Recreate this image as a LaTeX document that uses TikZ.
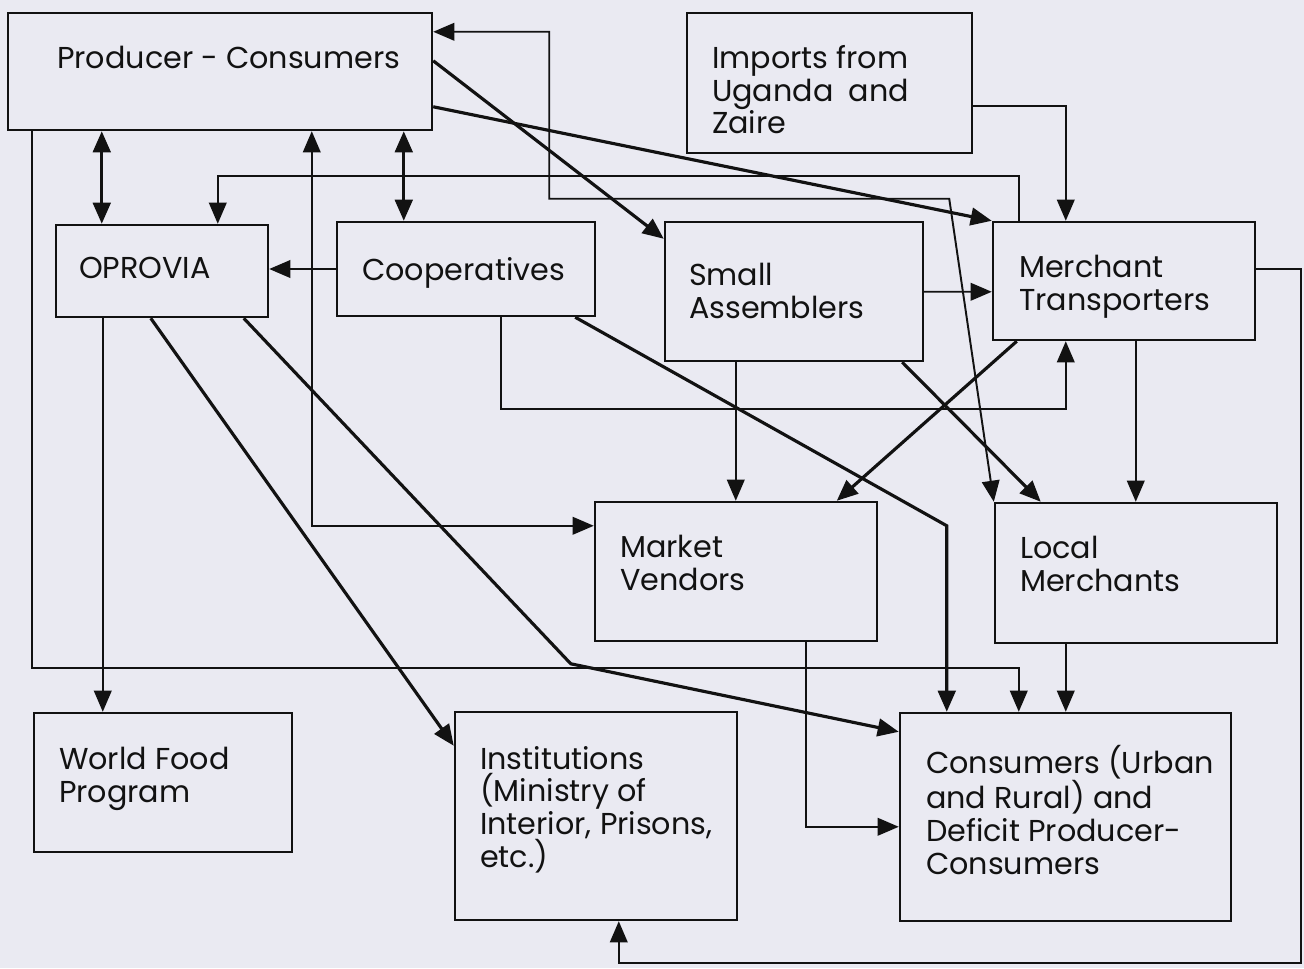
\documentclass[tikz,border=0pt]{standalone}
\usepackage{fontspec}
\setmainfont{Poppins}
\usetikzlibrary{arrows.meta, calc, fit}

\definecolor{paper}{RGB}{234,234,242}
\definecolor{ink}{RGB}{18,18,18}

\tikzset{
  box/.style={draw=ink, line width=1.4pt, inner sep=0pt},
  lbl/.style={anchor=north west, inner sep=0pt, align=left, text=ink,
    font=\fontsize{17.2}{18.7}\selectfont},
  arr/.style={draw=ink, line width=1.1pt, -{Triangle[length=12pt,width=10pt]}},
  dbl/.style={arr, {Triangle[length=12pt,width=10pt]}-{Triangle[length=12pt,width=10pt]}},
  heavy/.style={line width=1.8pt}
}

\begin{document}
\begin{tikzpicture}[x=0.02cm, y=-0.02cm]
  \fill[paper] (0,0) rectangle (1304,968);
  \useasboundingbox (0,0) rectangle (1304,968);

  % boxes
  \node[box, fit={(8,13) (432,130)}] (pc) {};
  \node[box, fit={(687,13) (972,153)}] (imp) {};
  \node[box, fit={(56,225) (268,317)}] (opr) {};
  \node[box, fit={(337,222) (595,316)}] (coop) {};
  \node[box, fit={(665,222) (923,361)}] (sa) {};
  \node[box, fit={(993,222) (1255,340)}] (mt) {};
  \node[box, fit={(595,502) (877,641)}] (mv) {};
  \node[box, fit={(995,503) (1277,643)}] (lm) {};
  \node[box, fit={(34,713) (292,852)}] (wfp) {};
  \node[box, fit={(455,712) (737,920)}] (inst) {};
  \node[box, fit={(900,713) (1231,921)}] (cons) {};

  % texts
  \node[lbl] (pc-t) at ($(pc.north west)+(50,34)$) {Producer - Consumers};
  \node[lbl] (imp-t) at ($(imp.north west)+(26,33)$) {Imports from\\Uganda\enspace and\\Zaire};
  \node[lbl] (opr-t) at ($(opr.north west)+(24,33)$) {OPROVIA};
  \node[lbl] (coop-t) at ($(coop.north west)+(26,36)$) {Cooperatives};
  \node[lbl] (sa-t) at ($(sa.north west)+(25,42)$) {Small\\Assemblers};
  \node[lbl] (mt-t) at ($(mt.north west)+(27,34)$) {Merchant\\Transporters};
  \node[lbl] (mv-t) at ($(mv.north west)+(26,34)$) {Market\\Vendors};
  \node[lbl] (lm-t) at ($(lm.north west)+(26,34)$) {Local\\Merchants};
  \node[lbl] (wfp-t) at ($(wfp.north west)+(26,35)$) {World Food\\Program};
  \node[lbl] (inst-t) at ($(inst.north west)+(26,35)$) {Institutions\\(Ministry of\\Interior, Prisons,\\etc.)};
  \node[lbl] (cons-t) at ($(cons.north west)+(27,33)$) {Consumers (Urban\\and Rural) and\\Deficit Producer-\\Consumers};

  % flows out of the producer-consumers
  \draw[dbl, heavy] ($(pc.south west)+(95,0)$) -- ($(opr.north west)+(47,0)$);
  \draw[dbl, heavy] ($(pc.south west)+(397,0)$) -- ($(coop.north west)+(68,0)$);
  \draw[dbl] ($(pc.south west)+(305,0)$) |- ($(mv.north west)+(0,25)$);
  \draw[dbl] ($(pc.north east)+(0,20)$) -- ++(116,0) -- ++(0,167) -- ++(400,0) -- (lm.north west);
  \draw[arr, heavy] ($(pc.north east)+(0,49)$) -- ($(sa.north west)+(0,18)$);
  \draw[arr, heavy] ($(pc.north east)+(0,95)$) -- (mt.north west);
  \draw[arr] ($(pc.south west)+(25,0)$) -- ++(0,537) -| ($(cons.north west)+(120,0)$);

  % cooperatives and imports
  \draw[arr] (coop.west) -- (coop.west -| opr.east);
  \draw[arr] ($(imp.north east)+(0,94)$) -| ($(mt.north west)+(74,0)$);
  \draw[arr] ($(coop.south west)+(165,0)$) -- ++(0,92) -| ($(mt.south west)+(74,0)$);
  \draw[arr, heavy] ($(coop.south east)+(-21,0)$) -- ($(cons.north west)+(48,-186)$) -- ($(cons.north west)+(48,0)$);

  % assemblers and transporters
  \draw[arr] ($(mt.north west)+(27,0)$) -- ++(0,-45) -| ($(opr.north west)+(163,0)$);
  \draw[arr] ($(sa.north east)+(0,71)$) -- ($(mt.north west)+(0,71)$);
  \draw[arr] ($(sa.south west)+(72,0)$) coordinate (a) -- (a |- mv.north);
  \draw[arr, heavy] ($(sa.south east)+(-22,0)$) -- ($(lm.north west)+(47,0)$);
  \draw[arr, heavy] ($(mt.south west)+(25,0)$) -- ($(mv.north west)+(243,0)$);
  \draw[arr] ($(mt.south west)+(144,0)$) coordinate (b) -- (b |- lm.north);
  \draw[arr] ($(mt.north east)+(0,48)$) -- ++(45,0) -- ++(0,694) -| ($(inst.south west)+(165,0)$);

  % to the final consumers
  \draw[arr] ($(lm.south west)+(72,0)$) coordinate (c) -- (c |- cons.north);
  \draw[arr] ($(mv.south west)+(212,0)$) |- ($(cons.north west)+(0,115)$);

  % OPROVIA
  \draw[arr] ($(opr.south west)+(48,0)$) coordinate (d) -- (d |- wfp.north);
  \draw[arr, heavy] ($(opr.south west)+(96,0)$) -- ($(inst.north west)+(0,35)$);
  \draw[arr, heavy] ($(opr.south west)+(189,0)$) -- ($(cons.north west)+(-328,-48)$) -- ($(cons.north west)+(0,20)$);
\end{tikzpicture}
\end{document}
